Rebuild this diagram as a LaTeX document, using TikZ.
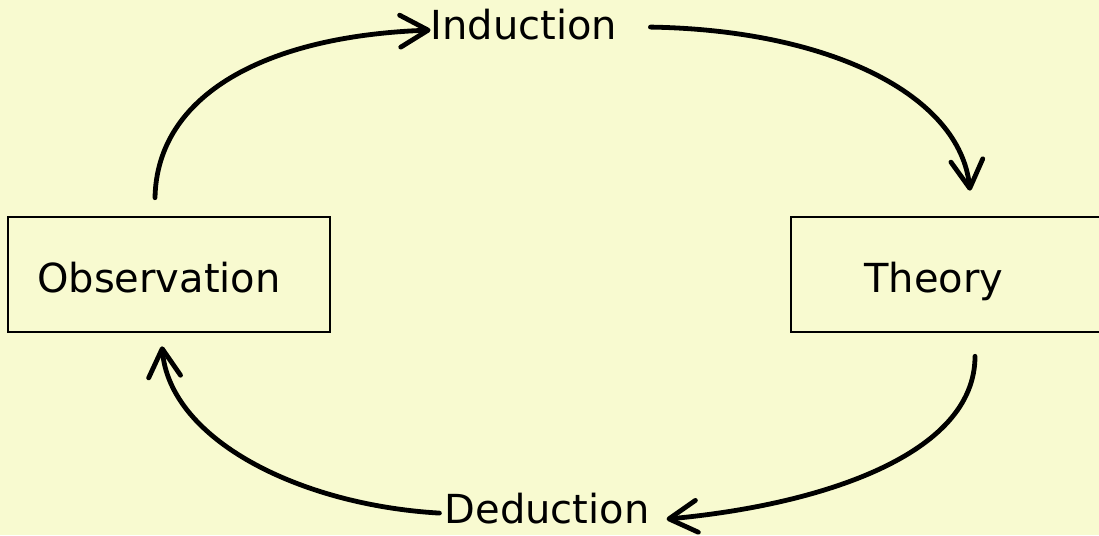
\documentclass[tikz,border=0pt]{standalone}
\usepackage{fontspec}
\setmainfont{DejaVu Sans}
\usetikzlibrary{arrows.meta}
\definecolor{bgyellow}{RGB}{248,250,208}
\tikzset{
  boxnode/.style={draw=black, line width=2.6pt, rectangle, inner sep=0pt},
  lbl/.style={inner sep=0pt, font=\fontsize{40}{48}\selectfont, anchor=base},
  conn/.style={line width=4.8pt, line cap=round, line join=round,
    -{Straight Barb[length=28pt,width=32pt,round]}}
}
\begin{document}
\begin{tikzpicture}[x=1pt,y=-1pt]
\path[use as bounding box, fill=bgyellow] (0,0) rectangle (1099,535);
% boxes
\node[boxnode, minimum width=322pt, minimum height=115pt] (obs) at (169,274.5) {};
\node[boxnode, minimum width=314pt, minimum height=115pt] (theory) at (948,274.5) {};
% labels
\node[lbl] (obslbl) at (159,292) {Observation};
\node[lbl] (thlbl) at (934,292) {Theory};
\node[lbl] (ind) at (524,40) {Induction};
\node[lbl] (ded) at (547,523) {Deduction};
% connectors
\draw[conn] ([xshift=-14pt,yshift=18pt]obs.north) .. controls (157,95) and (265,36) .. ([yshift=-5pt]ind.west);
\draw[conn] ([xshift=33pt,yshift=-2pt]ind.east) .. controls (830,30) and (960,95) .. ([xshift=22pt,yshift=25pt]theory.north);
\draw[conn] ([xshift=27pt,yshift=-23pt]theory.south) .. controls (975,455) and (820,505) .. ([xshift=17pt,yshift=-11pt]ded.east);
\draw[conn] ([xshift=-5pt,yshift=-5pt]ded.west) .. controls (300,505) and (170,440) .. ([xshift=-7pt,yshift=-13pt]obs.south);
\end{tikzpicture}
\end{document}
